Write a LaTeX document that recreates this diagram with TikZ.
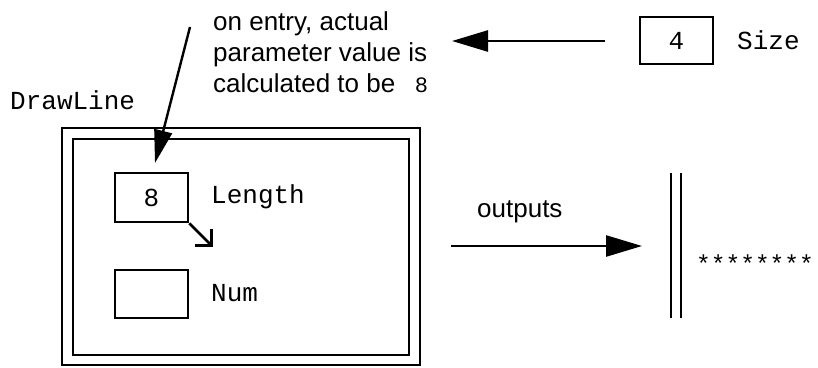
\documentclass[tikz,border=0pt]{standalone}
\usepackage{fontspec}
\setmainfont{Liberation Sans}
\setmonofont{Liberation Mono}
\usetikzlibrary{arrows.meta}
\begin{document}
\begin{tikzpicture}[x=1pt,y=-1pt,
  lw/.style={line width=2.6pt},
  sans/.style={font=\fontsize{26}{31}\selectfont},
  mono/.style={font=\fontsize{26}{30}\selectfont\ttfamily},
  cell/.style={draw,lw,rectangle,minimum width=73pt,minimum height=48pt,inner sep=0pt,mono},
  lbl/.style={inner sep=0pt,anchor=west,mono},
  bigtip/.style={-{Triangle[length=36pt,width=21pt]}},
]
\useasboundingbox (0,0) rectangle (818,367);
% outer / inner frame
\node[draw,lw,minimum width=358pt,minimum height=237pt,inner sep=0pt] (outer) at (241,246.5) {};
\node[draw,lw,minimum width=336pt,minimum height=216pt,inner sep=0pt] (inner) at (241,247) {};
\node[lbl] (drawline) at (10,100) {DrawLine};
% cells
\node[cell,minimum height=49pt] (len) at (151.5,197.5) {8};
\node[lbl] (lenl) at (211,197) {Length};
\node[cell] (num) at (151.5,294) {};
\node[lbl] (numl) at (211,293) {Num};
\coordinate (lentip) at (213,247);
\draw[lw,-{Straight Barb[angle=90:17pt]}] (len.south east) -- (lentip);
% annotation
\node[sans,align=left,anchor=north west,inner sep=0pt] (note) at (213,11)
  {on entry, actual\\parameter value is\\calculated to be\hspace{0.75em}{\ttfamily\fontsize{22}{30}\selectfont 8}};
\coordinate (slantstart) at (190,27);
\coordinate (slantend) at (155,163);
\draw[lw,line width=2.4pt,-{Triangle[length=33pt,width=18pt]}] (slantstart) -- (slantend);
% size
\node[cell,minimum height=47pt] (size) at (676.5,40.5) {4};
\node[lbl] (sizel) at (737,40) {Size};
\coordinate (sizearrowstart) at (605,41);
\coordinate (sizearrowend) at (452,41);
\draw[lw,bigtip] (sizearrowstart) -- (sizearrowend);
% outputs
\coordinate (outstart) at (451,246);
\coordinate (outend) at (642,246);
\draw[lw,bigtip] (outstart) -- (outend);
\node[sans,inner sep=0pt,anchor=west] (outputs) at (477,212) {outputs};
% screen
\coordinate (s1t) at (671,173); \coordinate (s1b) at (671,318);
\coordinate (s2t) at (681,173); \coordinate (s2b) at (681,318);
\draw[lw] (s1t) -- (s1b);
\draw[lw] (s2t) -- (s2b);
\node[lbl,font=\fontsize{24.5}{30}\selectfont\ttfamily] (stars) at (696,264) {********};
\end{tikzpicture}
\end{document}
